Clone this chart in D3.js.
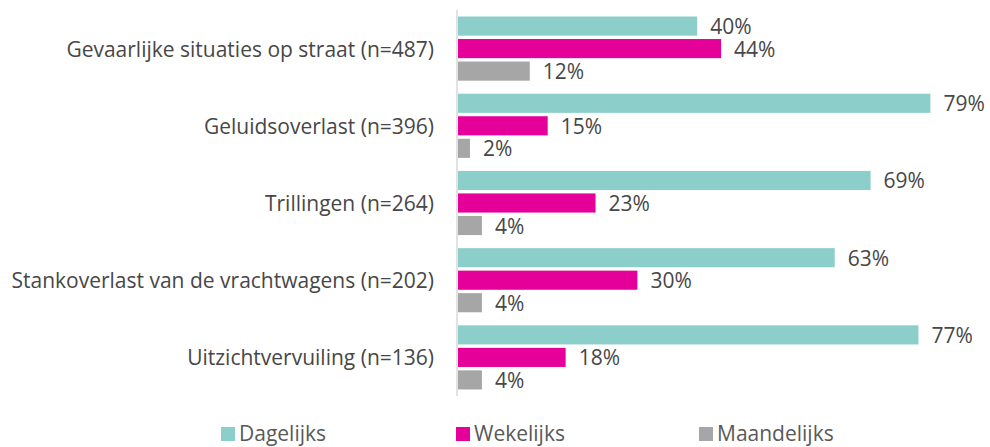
<!DOCTYPE html>
<html lang="nl">
<head>
<meta charset="utf-8">
<title>Overlast vrachtverkeer</title>
<script src="https://d3js.org/d3.v7.min.js"></script>
<style>
  body { margin: 0; background: #fff; }
  .cat { font-family: "Open Sans", sans-serif; font-size: 21px; fill: #474747; }
  .val { font-family: "Open Sans", sans-serif; font-size: 21px; fill: #474747; }
  .leg { font-family: "Open Sans", sans-serif; font-size: 21px; fill: #595959; }
</style>
</head>
<body>
<div id="vis"></div>
<script>
const categories = [
  "Gevaarlijke situaties op straat (n=487)",
  "Geluidsoverlast (n=396)",
  "Trillingen (n=264)",
  "Stankoverlast van de vrachtwagens (n=202)",
  "Uitzichtvervuiling (n=136)"
];
const seriesNames = ["Dagelijks", "Wekelijks", "Maandelijks"];
const dagelijks = [40, 79, 69, 63, 77];
const wekelijks = [44, 15, 23, 30, 18];
const maandelijks = [12, 2, 4, 4, 4];
const colors = ["#8ccfca", "#e6009a", "#a6a6a6"];

const width = 990, height = 447;
const seriesValues = [dagelijks, wekelijks, maandelijks];

// flat table for the bars
const rows = [];
categories.forEach((c, i) => {
  seriesNames.forEach((s, j) => rows.push({cat: c, series: s, value: seriesValues[j][i], color: colors[j]}));
});

const svg = d3.select("#vis").append("svg")
  .attr("width", width)
  .attr("height", height);

const xScale = d3.scaleLinear().domain([0, 100]).range([458, 1056]);

const yScale = d3.scaleBand()
  .domain(categories)
  .range([10, 396]);

const inner = d3.scaleBand()
  .domain(seriesNames)
  .range([0, yScale.bandwidth()])
  .paddingInner(0.15)
  .paddingOuter(0.29);

// bars
svg.selectAll(".bar")
  .data(rows)
  .enter()
  .append("rect")
  .attr("class", "bar")
  .attr("x", xScale(0))
  .attr("y", d => yScale(d.cat) + inner(d.series))
  .attr("width", d => xScale(d.value) - xScale(0))
  .attr("height", inner.bandwidth())
  .attr("fill", d => d.color);

// value labels
svg.selectAll(".val")
  .data(rows)
  .enter()
  .append("text")
  .attr("class", "val")
  .attr("x", d => xScale(d.value) + 13)
  .attr("y", d => yScale(d.cat) + inner(d.series) + inner.bandwidth() / 2 + 8)
  .text(d => d.value + "%");

// vertical axis line
svg.append("line")
  .attr("x1", xScale(0) - 1).attr("x2", xScale(0) - 1)
  .attr("y1", 10).attr("y2", 396)
  .attr("stroke", "#d9d9d9")
  .attr("stroke-width", 1.5);

// category labels
svg.selectAll(".cat")
  .data(categories)
  .enter()
  .append("text")
  .attr("class", "cat")
  .attr("x", 434)
  .attr("y", d => yScale(d) + yScale.bandwidth() / 2 + 8)
  .attr("text-anchor", "end")
  .text(d => d);

// legend
const legX = [221, 456, 699];
const leg = svg.selectAll(".legitem")
  .data(seriesNames)
  .enter()
  .append("g")
  .attr("transform", (d, i) => "translate(" + legX[i] + ",427)");

leg.append("rect")
  .attr("width", 14).attr("height", 14)
  .attr("fill", (d, i) => colors[i]);

leg.append("text")
  .attr("class", "leg")
  .attr("x", 18)
  .attr("y", 14)
  .text(d => d);
</script>
</body>
</html>
